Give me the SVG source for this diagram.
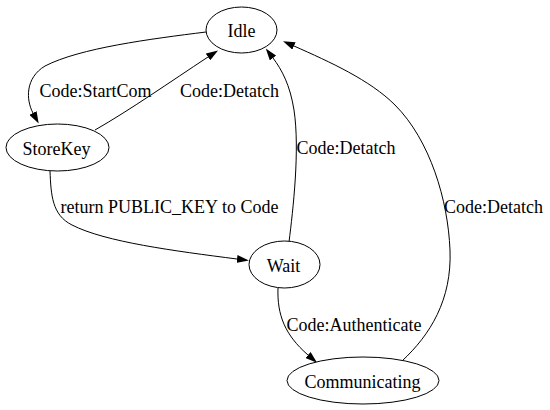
<svg xmlns="http://www.w3.org/2000/svg" width="550" height="410" viewBox="0 0 550 410">
<style>
text{font-family:'Liberation Serif','Times New Roman',Times,serif;font-size:18px;fill:#000;text-anchor:middle}
ellipse{fill:#fff;stroke:#000;stroke-width:1}
.e{fill:none;stroke:#000;stroke-width:1;marker-end:url(#ah)}
</style>
<defs>
<marker id="ah" viewBox="0 0 12 8" refX="0" refY="4" markerWidth="12" markerHeight="8" markerUnits="userSpaceOnUse" orient="auto">
<path d="M0,0 L12,4 L0,8 z" fill="#000"/>
</marker>
</defs>
<rect width="550" height="410" fill="#fff"/>
<g id="edges">
<path class="e" d="M206,32 C150,39 80,48 45,66 C25,78 26,100 33,113"/>
<text x="95.5" y="97">Code:StartCom</text>
<path class="e" d="M95,130 C130,110 170,82 208,57"/>
<text x="229.5" y="97">Code:Detatch</text>
<path class="e" d="M289,242 C293,210 300,150 294,110 C290,85 282,70 273,58"/>
<text x="346" y="154">Code:Detatch</text>
<path class="e" d="M402,361 C430,335 452,300 450,250 C448,200 430,140 395,105 C370,80 330,62 294,46"/>
<text x="493.5" y="213">Code:Detatch</text>
<path class="e" d="M50,171 C51,195 52,215 72,225 C105,242 175,251 237,259"/>
<text x="169.5" y="213">return PUBLIC_KEY to Code</text>
<path class="e" d="M278,288 C277,315 285,335 308,355"/>
<text x="354" y="331">Code:Authenticate</text>
</g>
<g id="Idle"><ellipse cx="241.5" cy="30" rx="35.5" ry="23"/><text x="241.5" y="37">Idle</text></g>
<g id="StoreKey"><ellipse cx="57.5" cy="147.5" rx="51.5" ry="23.5"/><text x="56.5" y="155">StoreKey</text></g>
<g id="Wait"><ellipse cx="284.5" cy="264.5" rx="35.5" ry="23.5"/><text x="283.5" y="272">Wait</text></g>
<g id="Communicating"><ellipse cx="363" cy="380.5" rx="76" ry="23.5"/><text x="362.5" y="388">Communicating</text></g>
</svg>
